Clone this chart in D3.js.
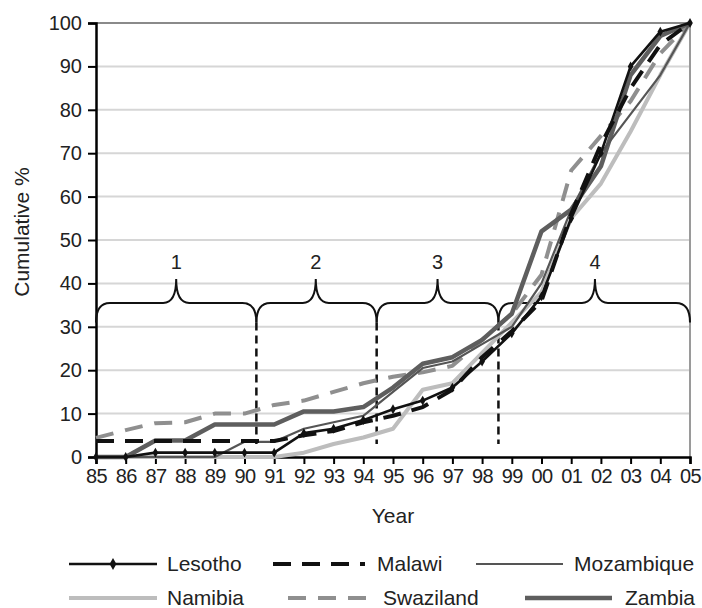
<!DOCTYPE html>
<html>
<head>
<meta charset="utf-8">
<script src="https://cdn.jsdelivr.net/npm/d3@7"></script>
<style>
  html, body { margin: 0; padding: 0; background: #fff; }
  svg { display: block; }
  text { font-family: "Liberation Sans", Arial, Helvetica, sans-serif; fill: #222; }
</style>
</head>
<body>
<svg id="chart" width="702" height="608"></svg>
<script>
// ---------- data ----------
const years = [85,86,87,88,89,90,91,92,93,94,95,96,97,98,99,100,101,102,103,104,105];
const yearLabels = ["85","86","87","88","89","90","91","92","93","94","95","96","97","98","99","00","01","02","03","04","05"];
const yTicks = [0,10,20,30,40,50,60,70,80,90,100];

const lesotho    = [0,0,1,1,1,1,1,5.5,6.5,8.5,11,13,16,22,28.5,37,55,70,90,98,100];
const malawi     = [3.7,3.7,3.7,3.7,3.7,3.7,3.7,5,6,8,9.5,11.5,15.5,23,29,36,56,72,85,95,100];
const mozambique = [0,0,0,0,0,3.5,3.5,6.5,8,9.5,15,20.5,22,26,30,40,57,70,79,88,100];
const namibia    = [0,0,0,0,0,0,0,1,3,4.5,6.5,15.5,17,24,31,38,55,63,75,88,100];
const swaziland  = [4.4,6.2,7.8,8,10,10,12,13,15,17,18.5,19.5,21,27,33,42,66,74,82,93,100];
const zambia     = [0,0,3.8,3.8,7.5,7.5,7.5,10.5,10.5,11.5,16,21.5,23,27,33,52,57,67,88,97,100];

const seriesNames = ["Lesotho","Malawi","Mozambique","Namibia","Swaziland","Zambia"];

// phases (braces)
const phaseLabels = ["1","2","3","4"];
const phaseStart  = [85, 90.4, 94.45, 98.55];
const phaseEnd    = [90.4, 94.45, 98.55, 105];
const phasePeak   = [87.7, 92.4, 96.5, 101.8];
const dividerYears = [90.4, 94.45, 98.55];

// ---------- styles ----------
const styles = {
  Lesotho:    {color:"#111", width:2.6, dash:null, marker:true},
  Malawi:     {color:"#111", width:4, dash:"18,11", marker:false},
  Mozambique: {color:"#555", width:2.2, dash:null, marker:false},
  Namibia:    {color:"#bdbdbd", width:4, dash:null, marker:false},
  Swaziland:  {color:"#8f8f8f", width:4, dash:"18,12", marker:false},
  Zambia:     {color:"#5e5e5e", width:4.5, dash:null, marker:false}
};
const seriesData = {Lesotho:lesotho, Malawi:malawi, Mozambique:mozambique, Namibia:namibia, Swaziland:swaziland, Zambia:zambia};
const drawOrder = ["Namibia","Swaziland","Zambia","Mozambique","Malawi","Lesotho"];

// ---------- layout ----------
const svg = d3.select("#chart");
const x = d3.scaleLinear().domain([85,105]).range([96,690]);
const y = d3.scaleLinear().domain([0,100]).range([457,23]);
const FS = 20;

// gridlines
svg.append("g").selectAll("line").data(yTicks.filter(d => d > 0)).join("line")
  .attr("x1", x(85)).attr("x2", x(105))
  .attr("y1", d => y(d)).attr("y2", d => y(d))
  .attr("stroke", d => d === 100 ? "#8a8a8a" : "#d6d6d6")
  .attr("stroke-width", 2);

// right border
svg.append("line").attr("x1", x(105)).attr("x2", x(105)).attr("y1", y(100)).attr("y2", y(0))
  .attr("stroke", "#9a9a9a").attr("stroke-width", 2);

// axes
const yAxis = svg.append("g").attr("transform", `translate(${x(85)},0)`)
  .call(d3.axisLeft(y).tickValues(yTicks).tickSize(8).tickPadding(6));
const xAxis = svg.append("g").attr("transform", `translate(0,${y(0)})`)
  .call(d3.axisBottom(x).tickValues(years).tickSize(7).tickPadding(5)
        .tickFormat((d,i) => yearLabels[i]));
[yAxis, xAxis].forEach(g => {
  g.select(".domain").attr("stroke", "#000").attr("stroke-width", 2.5);
  g.selectAll(".tick line").attr("stroke", "#000").attr("stroke-width", 2);
  g.selectAll(".tick text").attr("font-size", FS).attr("fill", "#222")
    .attr("font-family", "Liberation Sans, Arial, sans-serif");
});
xAxis.selectAll(".tick text").attr("letter-spacing", -0.6);

// axis titles
svg.append("text").attr("x", x(95)).attr("y", 523).attr("text-anchor", "middle")
  .attr("font-size", FS + 1).text("Year");
svg.append("text").attr("transform", `translate(29,232) rotate(-90)`)
  .attr("text-anchor", "middle").attr("font-size", FS + 1).text("Cumulative %");

// braces
const yh = y(35.5), ye = y(31), yt = y(41);
const rEnd = 14, rPeak = 13;
svg.append("g").selectAll("path").data(phaseLabels).join("path")
  .attr("d", (d,i) => {
    const xa = x(phaseStart[i]), xb = x(phaseEnd[i]), xp = x(phasePeak[i]);
    return `M${xa},${ye} Q${xa},${yh} ${xa+rEnd},${yh} L${xp-rPeak},${yh} Q${xp},${yh} ${xp},${yt}` +
           ` Q${xp},${yh} ${xp+rPeak},${yh} L${xb-rEnd},${yh} Q${xb},${yh} ${xb},${ye}`;
  })
  .attr("fill", "none").attr("stroke", "#111").attr("stroke-width", 2);
svg.append("g").selectAll("text").data(phaseLabels).join("text")
  .attr("x", (d,i) => x(phasePeak[i])).attr("y", y(45) + 7)
  .attr("text-anchor", "middle").attr("font-size", FS).text(d => d);

// phase dividers
svg.append("g").selectAll("line").data(dividerYears).join("line")
  .attr("x1", d => x(d)).attr("x2", d => x(d))
  .attr("y1", ye).attr("y2", y(3))
  .attr("stroke", "#111").attr("stroke-width", 2.5).attr("stroke-dasharray", "8,5");

// series
const line = d3.line().x((d,i) => x(years[i])).y(d => y(d));
drawOrder.forEach(name => {
  const s = styles[name];
  svg.append("path").datum(seriesData[name])
    .attr("d", line)
    .attr("fill", "none")
    .attr("stroke", s.color)
    .attr("stroke-width", s.width)
    .attr("stroke-linejoin", "round")
    .attr("stroke-dasharray", s.dash);
  if (s.marker) {
    svg.append("g").selectAll("path").data(seriesData[name]).join("path")
      .attr("d", d3.symbol().type(d3.symbolDiamond).size(28))
      .attr("transform", (d,i) => `translate(${x(years[i])},${y(d)})`)
      .attr("fill", s.color);
  }
});

// legend
const legendRows = [564, 598];
const legendItems = [
  {name:"Lesotho",    row:0, x1:69,  x2:157, tx:167},
  {name:"Malawi",     row:0, x1:273, x2:365, tx:377},
  {name:"Mozambique", row:0, x1:476, x2:563, tx:574},
  {name:"Namibia",    row:1, x1:69,  x2:157, tx:167},
  {name:"Swaziland",  row:1, x1:288, x2:375, tx:383},
  {name:"Zambia",     row:1, x1:525, x2:612, tx:625}
];
const lg = svg.append("g");
legendItems.forEach(it => {
  const s = styles[it.name];
  const ly = legendRows[it.row];
  lg.append("line").attr("x1", it.x1).attr("x2", it.x2).attr("y1", ly).attr("y2", ly)
    .attr("stroke", s.color).attr("stroke-width", s.width)
    .attr("stroke-dasharray", s.dash);
  if (s.marker) {
    lg.append("path").attr("d", d3.symbol().type(d3.symbolDiamond).size(40))
      .attr("transform", `translate(${(it.x1+it.x2)/2},${ly})`).attr("fill", s.color);
  }
  lg.append("text").attr("x", it.tx).attr("y", ly + 7).attr("font-size", FS + 1).text(it.name);
});
</script>
</body>
</html>
